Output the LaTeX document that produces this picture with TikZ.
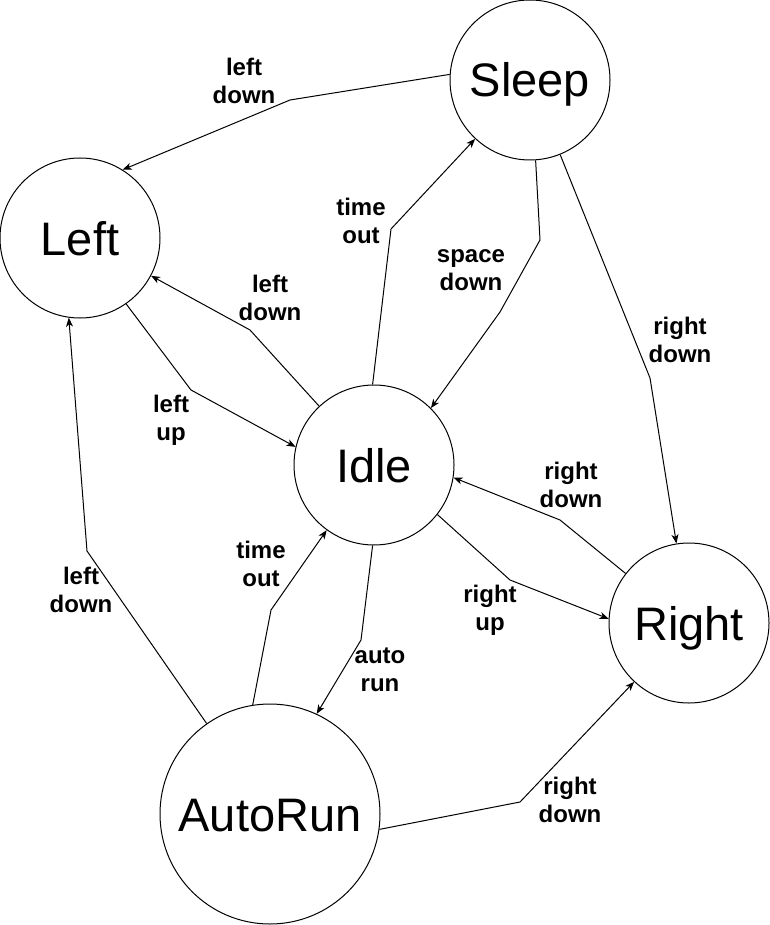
\documentclass[tikz,border=0pt]{standalone}
\usepackage{fontspec}
\setmainfont{Liberation Sans}
\usetikzlibrary{arrows.meta}

\tikzset{
state/.style={draw, circle, line width=1pt, minimum size=160pt, inner sep=0pt,
  text height=34pt, text depth=0pt, font=\fontsize{47}{56}\selectfont},
trans/.style={line width=1pt, -{Stealth[length=9pt,width=7pt,inset=2.5pt]}},
lbl/.style={align=center, inner sep=0pt, font=\fontsize{24}{28}\selectfont\bfseries}
}

\begin{document}
\begin{tikzpicture}[x=1pt,y=-1pt]
\useasboundingbox (0,0) rectangle (769,925);

% states
\node [state] (sleep) at (530,80) {Sleep};
\node [state] (left) at (80,238) {Left};
\node [state] (idle) at (374,465) {Idle};
\node [state] (right) at (689,623) {Right};
\node [state, minimum size=220pt] (autorun) at (270,814) {AutoRun};

% transitions
\draw [trans] (sleep.176) -- (290,100) -- (left.58);
\draw [trans] (idle.91) -- (391,229) -- (sleep.227);
\draw [trans] (sleep.274) -- (540,240) -- (500,312) -- (idle.45);
\draw [trans] (sleep.292) -- (650,378) -- (right.99);

\draw [trans] (idle.133) -- (250,330) -- (left.332);
\draw [trans] (left.305) -- (191,390) -- (idle.167);

\draw [trans] (right.142) -- (560,520) -- (idle.351);
\draw [trans] (idle.322) -- (510,580) -- (right.177);

\draw [trans] (autorun.99) -- (271,610) -- (idle.234);
\draw [trans] (idle.269) -- (361,640) -- (autorun.65);
\draw [trans] (autorun.125) -- (87,551) -- (left.262);
\draw [trans] (autorun.352) -- (520,802) -- (right.227);

% labels
\node [lbl] (lSleepLeft) at (244,81) {left\\down};
\node [lbl] (lIdleSleep) at (361,221) {time\\out};
\node [lbl] (lSleepIdle) at (471,270) {space\\down};
\node [lbl] (lSleepRight) at (680,340) {right\\down};
\node [lbl] (lIdleLeft) at (270,298) {left\\down};
\node [lbl] (lLeftIdle) at (171,420) {left\\up};
\node [lbl] (lRightIdle) at (571,485) {right\\down};
\node [lbl] (lIdleRight) at (490,610) {right\\up};
\node [lbl] (lAutoIdle) at (261,564) {time\\out};
\node [lbl] (lIdleAuto) at (380,670) {auto\\run};
\node [lbl] (lAutoLeft) at (81,590) {left\\down};
\node [lbl] (lAutoRight) at (570,800) {right\\down};
\end{tikzpicture}
\end{document}
